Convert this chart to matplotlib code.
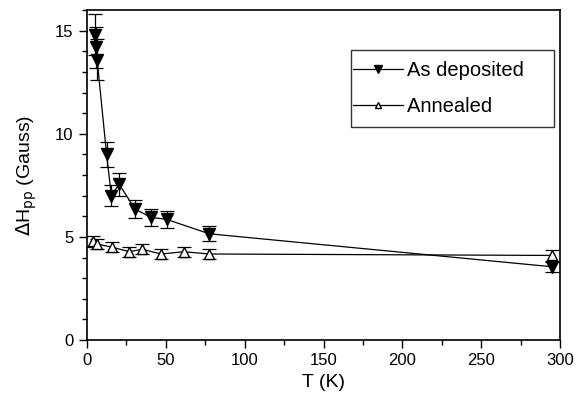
import matplotlib
matplotlib.use("Agg")
import matplotlib.pyplot as plt
from matplotlib.ticker import MultipleLocator
from matplotlib.lines import Line2D

plt.rcParams['font.family'] = ['Liberation Sans', 'DejaVu Sans']

# As deposited
T_dep = [5, 5.5, 6.5, 12.5, 15.5, 20.5, 30.5, 40.5, 50.5, 77.5, 295]
H_dep = [14.8, 14.2, 13.6, 9.0, 7.0, 7.55, 6.35, 5.95, 5.85, 5.15, 3.55]
E_dep = [1.0, 1.0, 1.0, 0.6, 0.5, 0.55, 0.45, 0.42, 0.42, 0.36, 0.25]

# Annealed
T_ann = [4, 6.5, 16, 27, 35, 47, 61.5, 77.5, 295]
H_ann = [4.78, 4.65, 4.5, 4.28, 4.4, 4.17, 4.28, 4.17, 4.1]
E_ann = [0.28, 0.25, 0.25, 0.25, 0.25, 0.25, 0.25, 0.25, 0.25]

labels = ['As deposited', 'Annealed']

fig = plt.figure(figsize=(5.83, 4.0), dpi=100)
ax = fig.add_axes([0.149, 0.15, 0.812, 0.825])

ax.errorbar(T_dep, H_dep, yerr=E_dep, fmt='-v', color='black', mfc='black',
            ms=8, lw=0.9, elinewidth=0.9, capsize=5, capthick=0.9)
ax.errorbar(T_ann, H_ann, yerr=E_ann, fmt='-^', color='black', mfc='white',
            ms=7, lw=0.9, elinewidth=0.9, capsize=5, capthick=0.9)

ax.set_xlim(0, 300)
ax.set_ylim(0, 16)
ax.xaxis.set_major_locator(MultipleLocator(50))
ax.xaxis.set_minor_locator(MultipleLocator(25))
ax.yaxis.set_major_locator(MultipleLocator(5))
ax.yaxis.set_minor_locator(MultipleLocator(1))
ax.tick_params(which='major', direction='out', length=6, width=1, labelsize=12)
ax.tick_params(which='minor', direction='out', length=3.5, width=1)
for s in ax.spines.values():
    s.set_linewidth(1.2)

ax.set_xlabel('T (K)', fontsize=14)
ax.set_ylabel(r'$\Delta$H$_{\mathrm{pp}}$ (Gauss)', fontsize=14, labelpad=12)

h1 = Line2D([], [], color='black', marker='v', mfc='black', ms=6, lw=0.9)
h2 = Line2D([], [], color='black', marker='^', mfc='white', ms=5, lw=0.9)
leg = ax.legend([h1, h2], [l + '     ' for l in labels], loc='upper right',
                bbox_to_anchor=(0.985, 0.848), borderaxespad=0, fontsize=14.5,
                frameon=True, fancybox=False, edgecolor='black', handlelength=2.5,
                handletextpad=0.2, borderpad=0.05, labelspacing=0.85)
frame = leg.get_frame()
frame.set_linewidth(1.0)
frame.set_boxstyle('square', pad=0.02)
frame.set_mutation_aspect(25)

fig.savefig('out.png', dpi=100)
